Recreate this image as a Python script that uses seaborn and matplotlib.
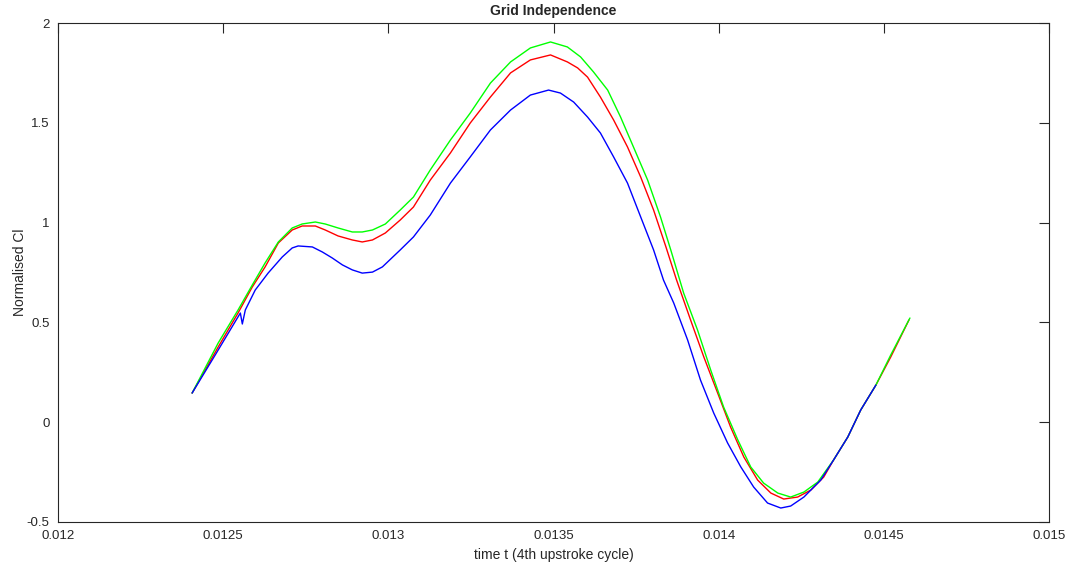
import matplotlib
matplotlib.use("Agg")
import matplotlib.pyplot as plt
import seaborn as sns
import pandas as pd

# time values (s) and normalised lift coefficient
t_blue = [0.012406, 0.012476, 0.012552, 0.012558, 0.012567, 0.012597, 0.012636, 0.012679,
          0.012709, 0.012727, 0.012770, 0.012800, 0.012830, 0.012861, 0.012891, 0.012921,
          0.012952, 0.012982, 0.013036, 0.013076, 0.013127, 0.013188, 0.013248, 0.013309,
          0.013370, 0.013430, 0.013485, 0.013521, 0.013561, 0.013603, 0.013642, 0.013682,
          0.013724, 0.013764, 0.013803, 0.013833, 0.013864, 0.013906, 0.013945, 0.013985,
          0.014027, 0.014067, 0.014106, 0.014148, 0.014188, 0.014218, 0.014258, 0.014309,
          0.014348, 0.014391, 0.014430, 0.014476]
cl_blue = [0.146, 0.337, 0.547, 0.492, 0.562, 0.662, 0.747, 0.828,
           0.873, 0.883, 0.878, 0.853, 0.823, 0.788, 0.763, 0.747,
           0.752, 0.778, 0.863, 0.928, 1.038, 1.198, 1.329, 1.464,
           1.564, 1.639, 1.664, 1.649, 1.604, 1.529, 1.449, 1.329,
           1.198, 1.028, 0.863, 0.712, 0.597, 0.412, 0.211, 0.046,
           -0.104, -0.224, -0.325, -0.405, -0.430, -0.420, -0.375, -0.290,
           -0.189, -0.074, 0.061, 0.186]

t_red = [0.012406, 0.012485, 0.012545, 0.012588, 0.012627, 0.012667, 0.012709, 0.012739,
         0.012779, 0.012809, 0.012848, 0.012891, 0.012921, 0.012952, 0.012991, 0.013036,
         0.013076, 0.013127, 0.013188, 0.013248, 0.013309, 0.013370, 0.013430, 0.013491,
         0.013542, 0.013573, 0.013603, 0.013642, 0.013682, 0.013724, 0.013764, 0.013803,
         0.013840, 0.013872, 0.013915, 0.013955, 0.013997, 0.014036, 0.014076, 0.014118,
         0.014158, 0.014197, 0.014239, 0.014279, 0.014318, 0.014348, 0.014391, 0.014430,
         0.014476, 0.014521, 0.014576]
cl_red = [0.146, 0.377, 0.547, 0.677, 0.778, 0.898, 0.963, 0.983,
          0.983, 0.963, 0.933, 0.913, 0.903, 0.913, 0.948, 1.013,
          1.078, 1.213, 1.349, 1.499, 1.629, 1.750, 1.815, 1.840,
          1.805, 1.775, 1.729, 1.629, 1.514, 1.379, 1.228, 1.063,
          0.880, 0.715, 0.512, 0.327, 0.146, -0.024, -0.174, -0.290,
          -0.355, -0.385, -0.375, -0.340, -0.275, -0.189, -0.074, 0.061,
          0.186, 0.327, 0.512]

t_green = [0.012406, 0.012485, 0.012545, 0.012588, 0.012627, 0.012667, 0.012709, 0.012739,
           0.012779, 0.012809, 0.012848, 0.012891, 0.012921, 0.012952, 0.012991, 0.013036,
           0.013076, 0.013127, 0.013188, 0.013248, 0.013309, 0.013370, 0.013430, 0.013491,
           0.013542, 0.013582, 0.013621, 0.013664, 0.013703, 0.013742, 0.013785, 0.013824,
           0.013855, 0.013894, 0.013936, 0.013976, 0.014015, 0.014058, 0.014097, 0.014136,
           0.014179, 0.014218, 0.014258, 0.014300, 0.014348, 0.014391, 0.014430, 0.014476,
           0.014521, 0.014579]
cl_green = [0.146, 0.397, 0.562, 0.687, 0.798, 0.903, 0.973, 0.993,
            1.003, 0.993, 0.973, 0.953, 0.953, 0.963, 0.993, 1.063,
            1.128, 1.264, 1.414, 1.549, 1.699, 1.805, 1.875, 1.905,
            1.880, 1.830, 1.755, 1.664, 1.529, 1.379, 1.213, 1.028,
            0.863, 0.647, 0.462, 0.261, 0.076, -0.089, -0.224, -0.305,
            -0.355, -0.375, -0.350, -0.300, -0.189, -0.074, 0.061, 0.186,
            0.337, 0.522]

x_ticks = [0.012, 0.0125, 0.013, 0.0135, 0.014, 0.0145, 0.015]
x_tick_labels = ["0.012", "0.0125", "0.013", "0.0135", "0.014", "0.0145", "0.015"]
y_ticks = [-0.5, 0, 0.5, 1, 1.5, 2]
y_tick_labels = ["-0.5", "0", "0.5", "1", "1.5", "2"]

df = pd.concat([
    pd.DataFrame({"t": t_red, "cl": cl_red, "series": "red"}),
    pd.DataFrame({"t": t_green, "cl": cl_green, "series": "green"}),
    pd.DataFrame({"t": t_blue, "cl": cl_blue, "series": "blue"}),
], ignore_index=True)

sns.set_style("white")
plt.rcParams["font.family"] = ["Liberation Sans", "DejaVu Sans"]

fig = plt.figure(figsize=(10.76, 5.70), dpi=100)
ax = fig.add_axes([58 / 1076, 48 / 570, (1049 - 58) / 1076, (522 - 23) / 570])

palette = {"red": (1, 0, 0), "green": (0, 1, 0), "blue": (0, 0, 1)}
sns.lineplot(data=df, x="t", y="cl", hue="series", palette=palette, sort=False,
             estimator=None, linewidth=1.0, legend=False, ax=ax)

ax.set_xlim(0.012, 0.015)
ax.set_ylim(-0.5, 2)
ax.set_xticks(x_ticks)
ax.set_xticklabels(x_tick_labels)
ax.set_yticks(y_ticks)
ax.set_yticklabels(y_tick_labels)
ax.tick_params(direction="in", length=7, width=0.8, color="#262626",
               top=True, right=True, labelsize=9.5, labelcolor="#262626", pad=6)
for s in ax.spines.values():
    s.set_color("#262626")
    s.set_linewidth(0.8)
    s.set_visible(True)

ax.set_xlabel("time t (4th upstroke cycle)", fontsize=10, color="#262626", labelpad=4)
ax.set_ylabel("Normalised Cl", fontsize=10, color="#262626", labelpad=0)
ax.set_title("Grid Independence", fontsize=10, fontweight="bold", pad=6)

fig.savefig("out.png", dpi=100)
